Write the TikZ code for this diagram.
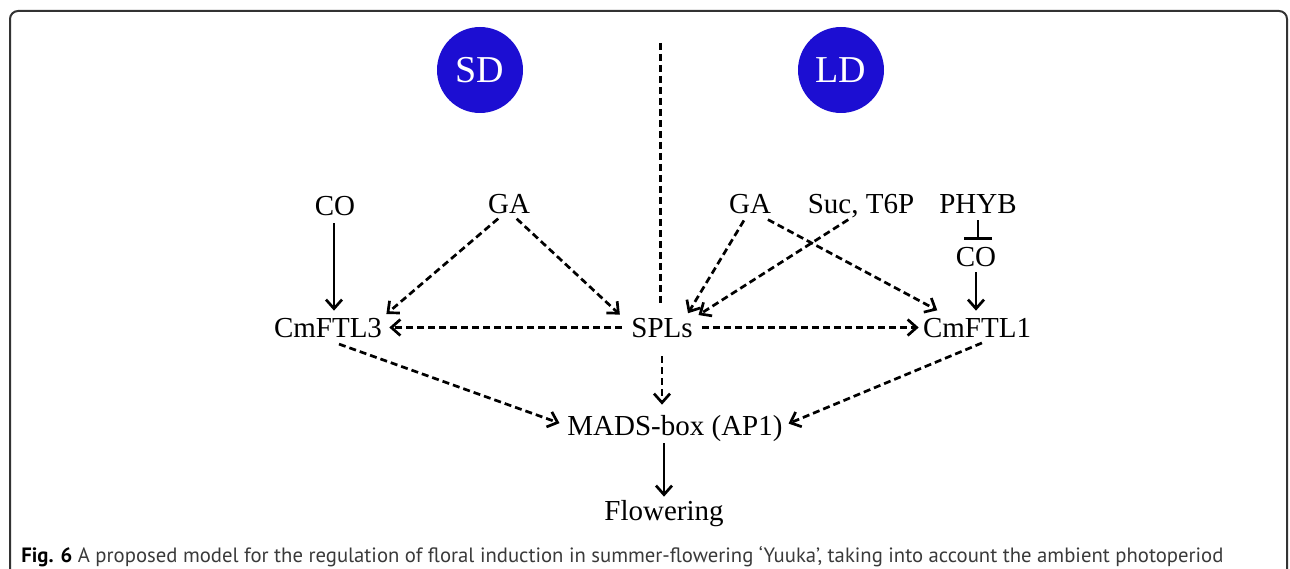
\documentclass[tikz,border=0pt]{standalone}
\usepackage{fontspec}
\setmainfont{Liberation Serif}
\newfontfamily\capfont{PT Sans}
\usetikzlibrary{arrows.meta, positioning, calc}
\definecolor{cblue}{HTML}{1C0ED2}
\definecolor{cframe}{HTML}{333333}
\definecolor{ctext}{HTML}{3A3A3A}
\tikzset{
  every picture/.style={line width=2.7pt},
  gene/.style={inner sep=0pt, text height=19pt, text depth=0pt, anchor=base, font=\fontsize{29}{34}\selectfont},
  day/.style={circle, fill=cblue, text=white, minimum size=86pt, inner sep=0pt, font=\fontsize{38}{40}\selectfont},
  arrow/.style={-{Straight Barb[length=9pt, width=16pt, line width=2.7pt]}},
  darrow/.style={arrow, dash pattern=on 7pt off 4pt},
  block/.style={-{Bar[width=28pt, line width=2.7pt]}},
}
\begin{document}
\begin{tikzpicture}[x=1pt, y=-1pt]
  \clip (0,0) rectangle (1290,569);
  % frame
  \draw[cframe, line width=2pt, rounded corners=8pt] (10,620) -- (10,11) -- (1287,11) -- (1287,620);
  % photoperiods
  \node[day] (sd) at (480,70) {SD};
  \node[day] (ld) at (841,70) {LD};
  \draw[dash pattern=on 7pt off 4pt, line width=3pt] (660,43) -- (660,303);
  % genes
  \node[gene] (co-sd) at (335,216) {CO};
  \node[gene] (ga-sd) at (509,214) {GA};
  \node[gene] (ga-ld) at (750,214) {GA};
  \node[gene] (suc) at (861,214) {Suc, T6P};
  \node[gene] (phyb) at (978,214) {PHYB};
  \node[gene] (co-ld) at (976,267) {CO};
  \node[gene] (ftl3) at (328,337) {CmFTL3};
  \node[gene] (spl) at (662,337) {SPLs};
  \node[gene] (ftl1) at (977,337) {CmFTL1};
  \node[gene] (mads) at (675,435) {MADS-box (AP1)};
  \node[gene] (flower) at (664,520) {Flowering};
  % SD side
  \draw[arrow, shorten <=6pt, shorten >=6pt] ([xshift=-1pt]co-sd.south) -- ([xshift=-1pt]co-sd.south |- ftl3.north);
  \draw[darrow, shorten <=5pt, shorten >=4pt] ([xshift=-7pt]ga-sd.south) -- (ftl3.north east);
  \draw[darrow, shorten <=5pt, shorten >=3pt] ([xshift=4pt]ga-sd.south) -- ([xshift=-8pt]spl.north west);
  \draw[darrow, shorten <=8pt, shorten >=6pt] (spl.west) -- (ftl3.east);
  % LD side
  \draw[darrow, shorten <=6pt, shorten >=4pt] ([xshift=-3pt]ga-ld.south) -- ([xshift=-8pt]spl.north east);
  \draw[darrow, shorten <=9pt, shorten >=5pt] ([xshift=10pt]ga-ld.south) -- ([xshift=20pt, yshift=4pt]ftl1.north west);
  \draw[darrow, shorten <=8pt, shorten >=3pt] ([xshift=-6pt]suc.south) -- ([xshift=2pt]spl.north east);
  \draw[block, shorten <=5pt, shorten >=7pt] (phyb.south) -- (phyb.south |- co-ld.north);
  \draw[arrow, shorten <=4pt, shorten >=6pt] (co-ld.south) -- (co-ld.south |- ftl1.north);
  \draw[darrow, shorten <=8pt, shorten >=3pt] (spl.east) -- (ftl1.west);
  % towards flowering
  \draw[darrow, shorten <=17pt, shorten >=7pt] ([xshift=-5pt]ftl3.south) -- (mads.west);
  \draw[darrow, shorten <=12pt, shorten >=5pt] ([xshift=16pt]ftl1.south) -- (mads.east);
  \draw[darrow, shorten <=18pt, shorten >=10pt] (spl.south) -- (spl.south |- mads.north);
  \draw[arrow, shorten <=7pt, shorten >=3pt] (flower.north |- mads.south) -- (flower.north);
  % caption
  \node[anchor=base west, inner sep=0pt, text=ctext, font=\capfont\fontsize{20.7}{24}\selectfont] (caption) at (20,562)
    {{\bfseries\color{black}Fig. 6} A proposed model for the regulation of floral induction in summer-flowering ‘Yuuka’, taking into account the ambient photoperiod};
\end{tikzpicture}
\end{document}
